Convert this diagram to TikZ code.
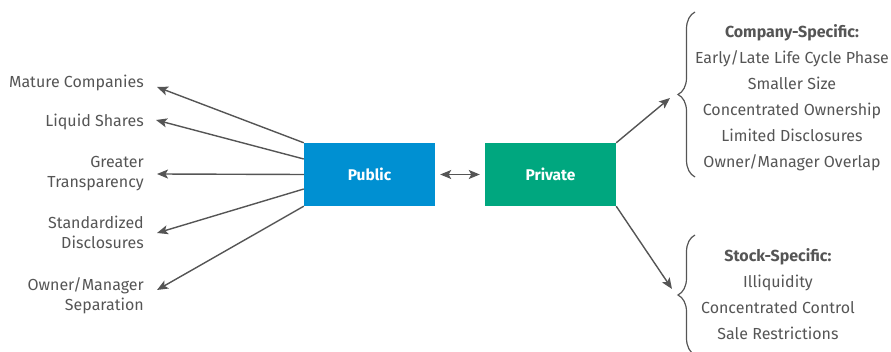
\documentclass[tikz,border=0pt]{standalone}
\usepackage{fontspec}
\setmainfont{Fira Sans}
\usetikzlibrary{arrows.meta,decorations.pathreplacing}
\definecolor{pubblue}{HTML}{0090D2}
\definecolor{privgreen}{HTML}{00A77F}
\definecolor{ink}{HTML}{555555}
\tikzset{
  box/.style={draw=none, minimum width=131pt, minimum height=63pt, inner sep=0pt,
    text=white, font=\fontsize{15.5}{18}\selectfont\bfseries},
  arr/.style={draw=ink, line width=1.4pt, -{Stealth[length=11pt,width=9pt,inset=2.5pt]}},
  dblarr/.style={draw=ink, line width=1.4pt, {Stealth[length=11pt,width=9pt,inset=2.5pt]}-{Stealth[length=11pt,width=9pt,inset=2.5pt]}},
  lbl/.style={text=ink, inner sep=0pt, align=right, anchor=east, font=\fontsize{16}{20}\selectfont},
  lst/.style={text=ink, inner sep=0pt, align=center, anchor=north, font=\fontsize{16}{26}\selectfont},
  bracestyle/.style={draw=ink, line width=1.2pt, decorate, decoration={brace, amplitude=17pt}},
}
\begin{document}
\begin{tikzpicture}[x=1pt, y=-1pt]
\useasboundingbox (0,0) rectangle (891,352);
\clip (0,0) rectangle (891,352);

% central boxes
\node[box, fill=pubblue] (pub) at (369.5,174.5) {Public};
\node[box, fill=privgreen] (priv) at (550.5,174.5) {Private};
\draw[dblarr] ([xshift=5pt]pub.east) -- ([xshift=-5pt]priv.west);

% public characteristics
\node[lbl] (m1) at (144,82.5) {Mature Companies};
\node[lbl] (m2) at (144,122) {Liquid Shares};
\node[lbl] (m3) at (144,174) {Greater\\Transparency};
\node[lbl] (m4) at (144,232.5) {Standardized\\Disclosures};
\node[lbl] (m5) at (144,295.5) {Owner/Manager\\Separation};

\coordinate (t1) at (157,87);
\coordinate (t2) at (156,120);
\coordinate (t3) at (157,174);
\coordinate (t4) at (157,233);
\coordinate (t5) at (157,290);

\draw[arr] (pub.north west) -- (t1);
\draw[arr] ([yshift=15.5pt]pub.west) -- (t2);
\draw[arr] (pub.west) -- (t3);
\draw[arr] ([yshift=-14.5pt]pub.west) -- (t4);
\draw[arr] (pub.south west) -- (t5);

% private characteristics
\draw[bracestyle] (695,177) -- (695,12);
\coordinate (b1) at (670,98);
\node[lst] (c1) at (792,24) {\textbf{Company-Specific:}\\Early/Late Life Cycle Phase\\Smaller Size\\Concentrated Ownership\\Limited Disclosures\\Owner/Manager Overlap};

\draw[bracestyle] (695,355) -- (695,235);
\coordinate (b2) at (672,289);
\node[lst] (c2) at (778,248) {\textbf{Stock-Specific:}\\Illiquidity\\Concentrated Control\\Sale Restrictions};

\draw[arr] (priv.north east) -- (b1);
\draw[arr] (priv.south east) -- (b2);
\end{tikzpicture}
\end{document}
